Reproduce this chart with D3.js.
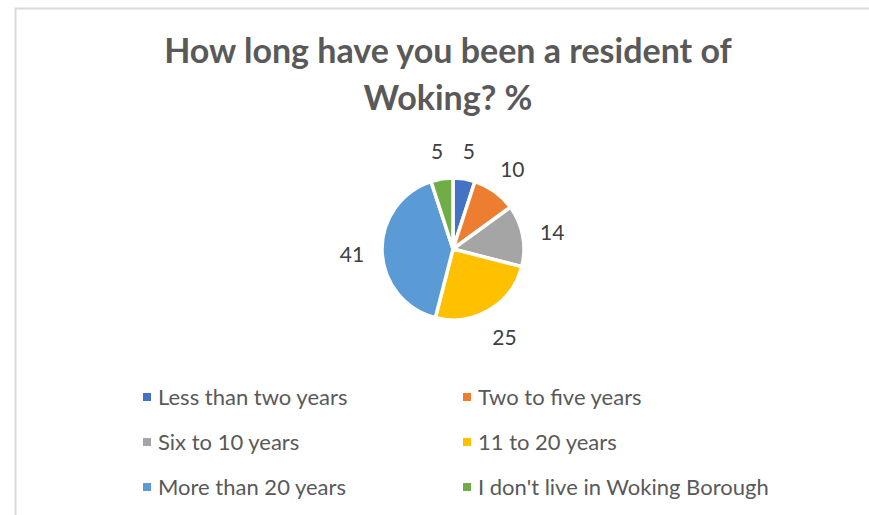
<!DOCTYPE html>
<html>
<head>
<meta charset="utf-8">
<script src="https://cdn.jsdelivr.net/npm/d3@7"></script>
<style>
  body { margin: 0; background: #fff; }
  svg { display: block; font-family: Lato, "Open Sans", sans-serif; }
</style>
</head>
<body>
<div id="chart"></div>
<script>
var categories = ["Less than two years", "Two to five years", "Six to 10 years",
                  "11 to 20 years", "More than 20 years", "I don't live in Woking Borough"];
var values = [5, 10, 14, 25, 41, 5];
var colors = ["#4472C4", "#ED7D31", "#A5A5A5", "#FFC000", "#5B9BD5", "#70AD47"];
var titleLines = ["How long have you been a resident of", "Woking? %"];

var width = 869, height = 515;
var cx = 453, cy = 249, radius = 71, labelRadius = 101;

var svg = d3.select("#chart").append("svg")
    .attr("width", width)
    .attr("height", height);

// chart area border
svg.append("rect")
    .attr("x", 15.5).attr("y", 8.5)
    .attr("width", width).attr("height", height)
    .style("fill", "#fff")
    .style("stroke", "#d9d9d9")
    .style("stroke-width", 2);

// title
svg.append("text")
    .attr("text-anchor", "middle")
    .style("font-size", "34px")
    .style("font-weight", "bold")
    .style("fill", "#595959")
    .selectAll("tspan")
    .data(titleLines)
    .join("tspan")
    .attr("x", 448)
    .attr("y", (d, i) => 63 + i * 47)
    .text(d => d);

var color = d3.scaleOrdinal().domain(categories).range(colors);

var pie = d3.pie().sort(null).value(d => d.value);
var arcs = pie(categories.map((c, i) => ({ name: c, value: values[i] })));

var arc = d3.arc().innerRadius(0).outerRadius(radius);
var labelArc = d3.arc().innerRadius(labelRadius).outerRadius(labelRadius);

var g = svg.append("g").attr("transform", "translate(" + cx + "," + cy + ")");

g.selectAll("path")
    .data(arcs)
    .join("path")
    .attr("d", arc)
    .style("fill", d => color(d.data.name))
    .style("stroke", "#fff")
    .style("stroke-width", 3.5)
    .style("stroke-linejoin", "round");

g.selectAll("text")
    .data(arcs)
    .join("text")
    .attr("transform", d => "translate(" + labelArc.centroid(d) + ")")
    .attr("text-anchor", "middle")
    .attr("dy", "0.45em")
    .style("font-size", "21px")
    .style("fill", "#404040")
    .text(d => d.data.value);

// legend
var legend = svg.append("g").attr("class", "legend");
var item = legend.selectAll("g")
    .data(categories)
    .join("g")
    .attr("transform", (d, i) => "translate(" + (i % 2 ? 463 : 143) + "," + (397 + Math.floor(i / 2) * 45) + ")");

item.append("rect")
    .attr("x", 0).attr("y", -4)
    .attr("width", 8).attr("height", 8)
    .style("fill", d => color(d));

item.append("text")
    .attr("x", 15)
    .attr("dy", "0.35em")
    .style("font-size", "22px")
    .style("fill", "#595959")
    .text(d => d);
</script>
</body>
</html>
